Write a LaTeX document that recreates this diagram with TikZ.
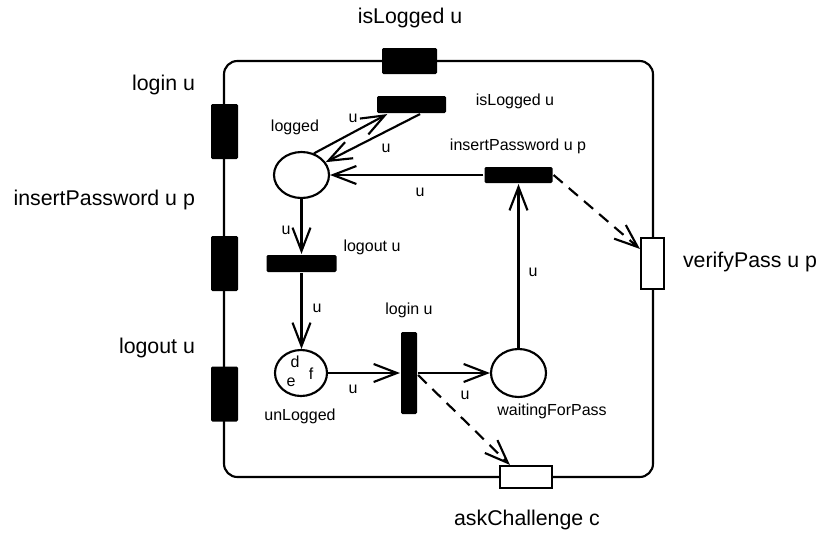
\documentclass[tikz,border=0pt]{standalone}
\usepackage{fontspec}
\setmainfont{Liberation Sans}
\usetikzlibrary{arrows.meta,calc,shapes.geometric}
\begin{document}
\begin{tikzpicture}[x=0.75pt,y=-0.75pt,line width=1.6pt,
  arc/.style={-{Straight Barb[length=17.5pt,width=13.5pt,line width=1.6pt]}},
  dasharc/.style={arc,dash pattern=on 9pt off 6pt},
  bartr/.style={rectangle,fill=black,draw=none,inner sep=0pt,rounded corners=1pt},
  whitetr/.style={rectangle,fill=white,draw=black,inner sep=0pt},
  place/.style={ellipse,draw=black,fill=white,inner sep=0pt},
  biglbl/.style={font=\fontsize{16}{19}\selectfont,inner sep=0pt},
  smalllbl/.style={font=\fontsize{12}{14}\selectfont,inner sep=0pt},
  framebox/.style={rounded corners=10pt}]
\useasboundingbox (0,0) rectangle (817,533);
% outer frame
\draw[framebox] (224,61) rectangle (653,477);
% transitions on the frame
\node[bartr,minimum width=20.25pt,minimum height=41.25pt] (fLogin) at (224.5,131.5) {};
\node[bartr,minimum width=20.25pt,minimum height=41.25pt] (fIns) at (224.5,263.5) {};
\node[bartr,minimum width=20.25pt,minimum height=41.25pt] (fLogout) at (224.5,394) {};
\node[bartr,minimum width=41.25pt,minimum height=19.5pt] (fIsl) at (409.5,61) {};
\node[whitetr,minimum width=17.25pt,minimum height=38.25pt] (vp) at (652.5,263.5) {};
\node[whitetr,minimum width=39pt,minimum height=16.5pt] (ac) at (526,477) {};
% frame labels
\node[biglbl,anchor=east] (lLogin) at (196,85) {login u};
\node[biglbl,anchor=east] (lIns) at (196,200) {insertPassword u p};
\node[biglbl,anchor=east] (lLogout) at (196,348) {logout u};
\node[biglbl] (lIsl) at (410,18) {isLogged u};
\node[biglbl,anchor=west] (lVp) at (682,262) {verifyPass u p};
\node[biglbl] (lAc) at (527,520) {askChallenge c};
% places
\node[place,minimum width=41.25pt,minimum height=34.5pt] (logged) at (301.5,175) {};
\node[place,minimum width=39pt,minimum height=34.5pt] (unl) at (301,373) {};
\node[place,minimum width=41.25pt,minimum height=36pt] (wait) at (518.5,373) {};
% inner transitions
\node[bartr,minimum width=51.75pt,minimum height=12.75pt] (isl) at (411.5,104.5) {};
\node[bartr,minimum width=51pt,minimum height=12pt] (ip) at (518.5,175) {};
\node[bartr,minimum width=52.5pt,minimum height=12.75pt] (lo) at (301.5,263.5) {};
\node[bartr,minimum width=12pt,minimum height=61.5pt] (li) at (409,373) {};
% inner labels
\node[smalllbl] (nLogged) at (295,127) {logged};
\node[smalllbl] (nIsl) at (515,101) {isLogged u};
\node[smalllbl] (nIp) at (518,146) {insertPassword u p};
\node[smalllbl] (nLo) at (372,247) {logout u};
\node[smalllbl] (nLi) at (409,310) {login u};
\node[smalllbl] (nUnl) at (300,416) {unLogged};
\node[smalllbl] (nWait) at (552,411) {waitingForPass};
% tokens
\node[smalllbl] (tokD) at (295,362) {d};
\node[smalllbl] (tokE) at (291,382) {e};
\node[smalllbl] (tokF) at (311,374) {f};
% arcs
\draw[arc] (logged.60) -- ($(isl.south west)!0.16!(isl.south east)$);
\draw[arc] ($(isl.south west)!0.62!(isl.south east)$) -- (logged.28);
\draw[arc] (ip.west) -- (logged.east);
\draw[arc] (wait.north) -- (ip.south);
\draw[arc] (logged.south -| lo.north) -- (lo.north);
\draw[arc] (lo.south) -- (unl.north -| lo.south);
\draw[arc] (unl.east) -- (li.west);
\draw[arc] (li.east) -- (wait.west);
\draw[dasharc] (ip.east) -- ($(vp.north west)+(0,12)$);
\draw[dasharc] ($(li.east)+(0,2)$) -- ($(ac.north west)+(11,0)$);
% arc labels
\node[smalllbl] (u1) at (353,118) {u};
\node[smalllbl] (u2) at (386,148) {u};
\node[smalllbl] (u3) at (420,192) {u};
\node[smalllbl] (u4) at (533,272) {u};
\node[smalllbl] (u5) at (286,230) {u};
\node[smalllbl] (u6) at (317,308) {u};
\node[smalllbl] (u7) at (353,389) {u};
\node[smalllbl] (u8) at (465,395) {u};
\end{tikzpicture}
\end{document}
